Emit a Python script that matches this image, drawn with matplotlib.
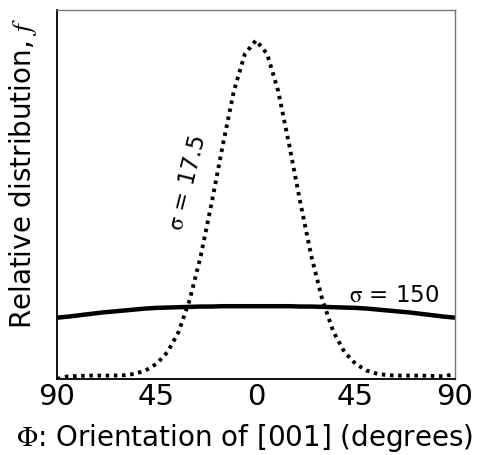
import numpy as np
import matplotlib.pyplot as plt

plt.rcParams['font.family'] = 'DejaVu Sans'
plt.rcParams['mathtext.fontset'] = 'stix'

# orientation (degrees)
phi = [-90, -85, -80, -75, -70, -65, -60, -55, -50, -45, -40, -35, -30, -25, -20, -15, -10, -5,
       0, 5, 10, 15, 20, 25, 30, 35, 40, 45, 50, 55, 60, 65, 70, 75, 80, 85, 90]
# sigma = 17.5 (dotted)
f_narrow = [-0.005, 0.003, 0.004, 0.005, 0.005, 0.005, 0.006, 0.01, 0.02, 0.04, 0.075, 0.135, 0.23, 0.36,
            0.52, 0.69, 0.85, 0.96, 1.0, 0.96, 0.85, 0.69, 0.52, 0.36, 0.23, 0.135, 0.075, 0.04,
            0.02, 0.01, 0.006, 0.005, 0.005, 0.005, 0.004, 0.003, 0.01]
# sigma = 150 (solid)
f_wide = [0.177, 0.180, 0.184, 0.188, 0.192, 0.195, 0.198, 0.201, 0.204, 0.206, 0.207, 0.208, 0.209, 0.210,
          0.210, 0.211, 0.211, 0.211, 0.211, 0.211, 0.211, 0.211, 0.210, 0.210, 0.209, 0.208,
          0.207, 0.206, 0.204, 0.201, 0.198, 0.195, 0.192, 0.188, 0.184, 0.180, 0.177]

xticks = [-90, -45, 0, 45, 90]
xticklabels = ['90', '45', '0', '45', '90']

fig = plt.figure(figsize=(4.89, 4.56), dpi=100)
ax = fig.add_axes([0.1166, 0.1667, 0.8139, 0.8092])

ax.plot(phi, f_wide, color='black', lw=3.2, solid_capstyle='butt')
ax.plot(phi, f_narrow, color='black', lw=2.8, linestyle=(0, (0.9, 1.2)), dash_capstyle='butt')

ax.set_xlim(-90, 90)
ax.set_ylim(-0.005, 1.09)
ax.set_xticks(xticks)
ax.set_xticklabels(xticklabels, fontsize=21)
ax.set_yticks([])
ax.tick_params(axis='x', length=0, pad=2)

for s in ['top', 'right']:
    ax.spines[s].set_color('#777777')
    ax.spines[s].set_linewidth(1.0)
for s in ['left', 'bottom']:
    ax.spines[s].set_color('black')
    ax.spines[s].set_linewidth(1.3)

ax.set_xlabel(r'$\mathrm{\Phi}$: Orientation of [001] (degrees)', fontsize=20)
ax.xaxis.set_label_coords(0.472, -0.115)
ax.set_ylabel(r'Relative distribution, $f$', fontsize=20)
ax.yaxis.set_label_coords(-0.045, 0.56)

ax.text(-31, 0.58, r'$\mathrm{\sigma}$ = 17.5', rotation=76, fontsize=16.5, ha='center', va='center')
ax.text(62.5, 0.245, r'$\mathrm{\sigma}$ = 150', fontsize=16.5, ha='center', va='center')

plt.savefig('out.png', dpi=100)
